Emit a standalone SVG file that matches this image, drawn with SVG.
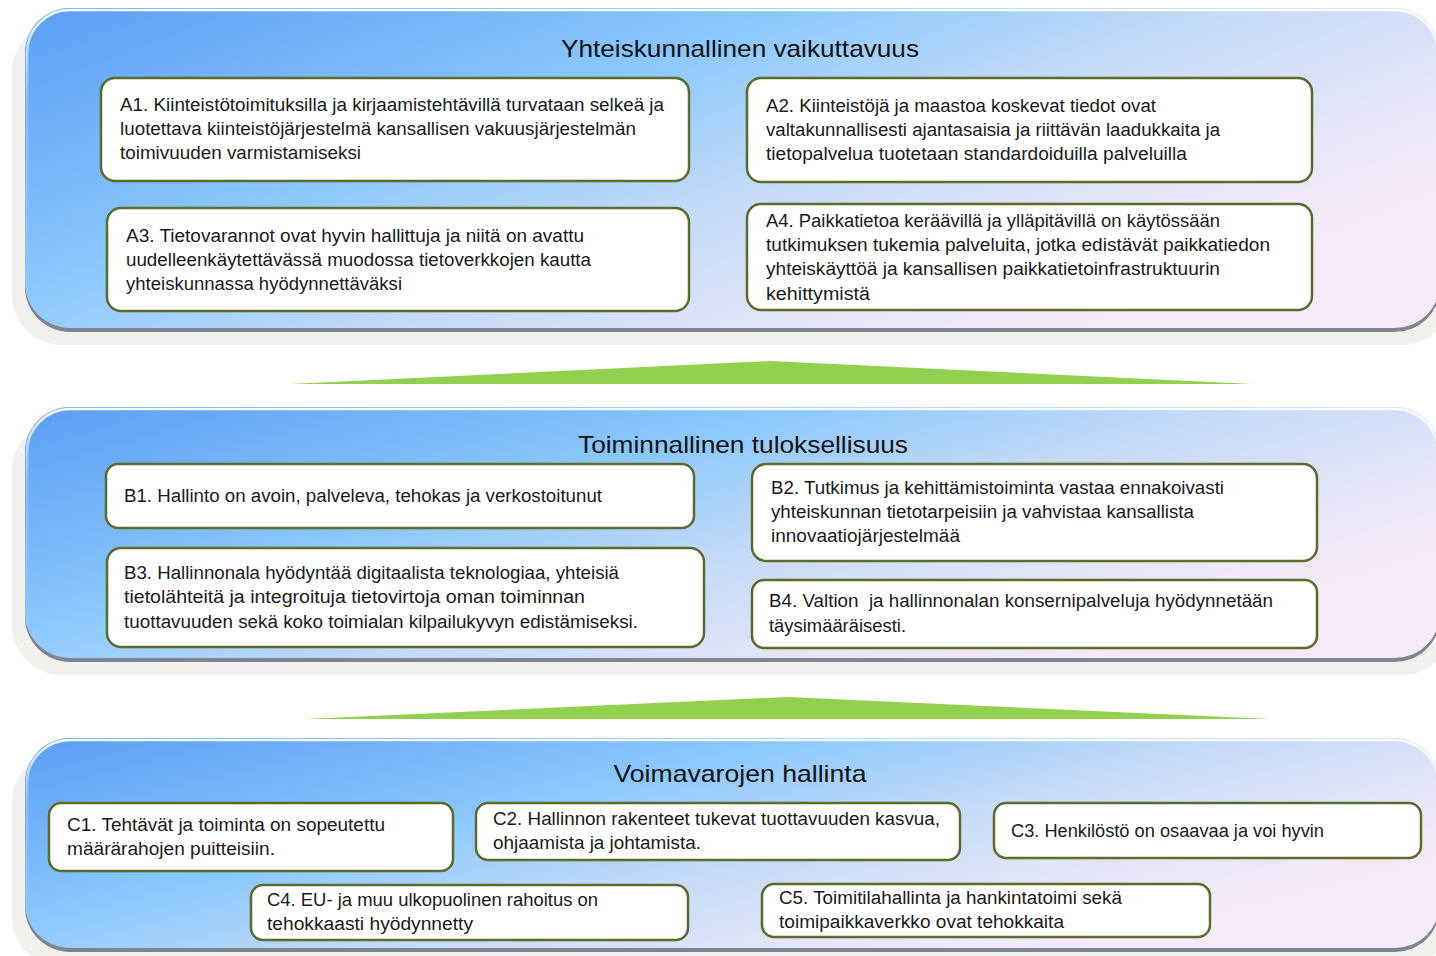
<svg xmlns="http://www.w3.org/2000/svg" width="1436" height="956" viewBox="0 0 1436 956">
<defs>
<linearGradient id="panelFill" x1="0" y1="0" x2="1" y2="0.6">
<stop offset="0" stop-color="#5c9ef5"/>
<stop offset="0.4" stop-color="#8ac8fd"/>
<stop offset="0.62" stop-color="#c2daf8"/>
<stop offset="0.85" stop-color="#e6e6f8"/>
<stop offset="1" stop-color="#f7eaf8"/>
</linearGradient>
<linearGradient id="hilite" x1="0" y1="0" x2="0" y2="1">
<stop offset="0" stop-color="#ffffff" stop-opacity="0.95"/>
<stop offset="0.3" stop-color="#ffffff" stop-opacity="0.2"/>
<stop offset="1" stop-color="#ffffff" stop-opacity="0"/>
</linearGradient>
<style>
.shadow{fill:#f1f0eb}
.edge{fill:#7d8590}
.panel{fill:url(#panelFill)}
.gloss{fill:none;stroke:url(#hilite);stroke-width:2.5}
.box{fill:#ffffff;stroke:#5a6b2b;stroke-width:2.5}
.t{font-family:"Liberation Sans",Arial,sans-serif;font-size:18px;fill:#1a1a1a}
.title{font-family:"Liberation Sans",Arial,sans-serif;font-size:24px;fill:#111111;text-anchor:middle}
.arrow{fill:#92d050}
</style>
</defs>
<rect width="1436" height="956" fill="#ffffff"/>

<g id="panel-A">
<rect class="shadow" x="12" y="22" width="1440" height="323" rx="50"/>
<rect class="edge" x="25" y="10" width="1415" height="322" rx="45"/>
<rect class="panel" x="25" y="8" width="1415" height="320" rx="45"/>
<rect class="gloss" x="27" y="10" width="1411" height="316" rx="43"/>
<text class="title" x="740" y="57" textLength="358" lengthAdjust="spacingAndGlyphs">Yhteiskunnallinen vaikuttavuus</text>
</g>
<g id="panel-B">
<rect class="shadow" x="12" y="421" width="1440" height="254" rx="50"/>
<rect class="edge" x="25" y="409" width="1415" height="253" rx="45"/>
<rect class="panel" x="25" y="407" width="1415" height="251" rx="45"/>
<rect class="gloss" x="27" y="409" width="1411" height="247" rx="43"/>
<text class="title" x="743" y="453" textLength="330" lengthAdjust="spacingAndGlyphs">Toiminnallinen tuloksellisuus</text>
</g>
<g id="panel-C">
<rect class="shadow" x="12" y="752" width="1440" height="215" rx="50"/>
<rect class="edge" x="25" y="740" width="1415" height="212" rx="45"/>
<rect class="panel" x="25" y="738" width="1415" height="210" rx="45"/>
<rect class="gloss" x="27" y="740" width="1411" height="206" rx="43"/>
<text class="title" x="740" y="782" textLength="253" lengthAdjust="spacingAndGlyphs">Voimavarojen hallinta</text>
</g>

<g id="connectors">
<polygon class="arrow" points="290,384 770,361 1253,384"/>
<polygon class="arrow" points="305,719 788,697 1270,719"/>
</g>

<g id="A1">
<rect class="box" x="101" y="78" width="588" height="103" rx="14"/>
<text class="t" x="120" y="111" textLength="544" lengthAdjust="spacingAndGlyphs">A1. Kiinteistötoimituksilla ja kirjaamistehtävillä turvataan selkeä ja</text>
<text class="t" x="120" y="135" textLength="516" lengthAdjust="spacingAndGlyphs">luotettava kiinteistöjärjestelmä kansallisen vakuusjärjestelmän</text>
<text class="t" x="120" y="159" textLength="241" lengthAdjust="spacingAndGlyphs">toimivuuden varmistamiseksi</text>
</g>
<g id="A2">
<rect class="box" x="747" y="78" width="565" height="104" rx="14"/>
<text class="t" x="766" y="112" textLength="390" lengthAdjust="spacingAndGlyphs">A2. Kiinteistöjä ja maastoa koskevat tiedot ovat</text>
<text class="t" x="766" y="136" textLength="454" lengthAdjust="spacingAndGlyphs">valtakunnallisesti ajantasaisia ja riittävän laadukkaita ja</text>
<text class="t" x="766" y="160" textLength="421" lengthAdjust="spacingAndGlyphs">tietopalvelua tuotetaan standardoiduilla palveluilla</text>
</g>
<g id="A3">
<rect class="box" x="107" y="208" width="582" height="103" rx="14"/>
<text class="t" x="126" y="242" textLength="458" lengthAdjust="spacingAndGlyphs">A3. Tietovarannot ovat hyvin hallittuja ja niitä on avattu</text>
<text class="t" x="126" y="266" textLength="465" lengthAdjust="spacingAndGlyphs">uudelleenkäytettävässä muodossa tietoverkkojen kautta</text>
<text class="t" x="126" y="290" textLength="276" lengthAdjust="spacingAndGlyphs">yhteiskunnassa hyödynnettäväksi</text>
</g>
<g id="A4">
<rect class="box" x="747" y="204" width="565" height="106" rx="14"/>
<text class="t" x="766" y="227" textLength="454" lengthAdjust="spacingAndGlyphs">A4. Paikkatietoa keräävillä ja ylläpitävillä on käytössään</text>
<text class="t" x="766" y="251" textLength="504" lengthAdjust="spacingAndGlyphs">tutkimuksen tukemia palveluita, jotka edistävät paikkatiedon</text>
<text class="t" x="766" y="275" textLength="454" lengthAdjust="spacingAndGlyphs">yhteiskäyttöä ja kansallisen paikkatietoinfrastruktuurin</text>
<text class="t" x="766" y="300" textLength="104" lengthAdjust="spacingAndGlyphs">kehittymistä</text>
</g>

<g id="B1">
<rect class="box" x="106" y="464" width="588" height="64" rx="12"/>
<text class="t" x="124" y="502" textLength="478" lengthAdjust="spacingAndGlyphs">B1. Hallinto on avoin, palveleva, tehokas ja verkostoitunut</text>
</g>
<g id="B2">
<rect class="box" x="752" y="464" width="565" height="97" rx="14"/>
<text class="t" x="771" y="494" textLength="453" lengthAdjust="spacingAndGlyphs">B2. Tutkimus ja kehittämistoiminta vastaa ennakoivasti</text>
<text class="t" x="771" y="518" textLength="423" lengthAdjust="spacingAndGlyphs">yhteiskunnan tietotarpeisiin ja vahvistaa kansallista</text>
<text class="t" x="771" y="542" textLength="189" lengthAdjust="spacingAndGlyphs">innovaatiojärjestelmää</text>
</g>
<g id="B3">
<rect class="box" x="107" y="548" width="597" height="99" rx="14"/>
<text class="t" x="124" y="579" textLength="495" lengthAdjust="spacingAndGlyphs">B3. Hallinnonala hyödyntää digitaalista teknologiaa, yhteisiä</text>
<text class="t" x="124" y="603" textLength="461" lengthAdjust="spacingAndGlyphs">tietolähteitä ja integroituja tietovirtoja oman toiminnan</text>
<text class="t" x="124" y="628" textLength="514" lengthAdjust="spacingAndGlyphs">tuottavuuden sekä koko toimialan kilpailukyvyn edistämiseksi.</text>
</g>
<g id="B4">
<rect class="box" x="752" y="580" width="565" height="68" rx="12"/>
<text class="t" x="769" y="607" textLength="504" lengthAdjust="spacingAndGlyphs">B4. Valtion&#160; ja hallinnonalan konsernipalveluja hyödynnetään</text>
<text class="t" x="769" y="632" textLength="137" lengthAdjust="spacingAndGlyphs">täysimääräisesti.</text>
</g>

<g id="C1">
<rect class="box" x="49" y="803" width="404" height="68" rx="12"/>
<text class="t" x="67" y="831" textLength="318" lengthAdjust="spacingAndGlyphs">C1. Tehtävät ja toiminta on sopeutettu</text>
<text class="t" x="67" y="855" textLength="208" lengthAdjust="spacingAndGlyphs">määrärahojen puitteisiin.</text>
</g>
<g id="C2">
<rect class="box" x="476" y="803" width="484" height="57" rx="12"/>
<text class="t" x="493" y="825" textLength="447" lengthAdjust="spacingAndGlyphs">C2. Hallinnon rakenteet tukevat tuottavuuden kasvua,</text>
<text class="t" x="493" y="849" textLength="208" lengthAdjust="spacingAndGlyphs">ohjaamista ja johtamista.</text>
</g>
<g id="C3">
<rect class="box" x="994" y="803" width="427" height="55" rx="12"/>
<text class="t" x="1011" y="837" textLength="313" lengthAdjust="spacingAndGlyphs">C3. Henkilöstö on osaavaa ja voi hyvin</text>
</g>
<g id="C4">
<rect class="box" x="251" y="885" width="437" height="55" rx="12"/>
<text class="t" x="267" y="906" textLength="331" lengthAdjust="spacingAndGlyphs">C4. EU- ja muu ulkopuolinen rahoitus on</text>
<text class="t" x="267" y="930" textLength="206" lengthAdjust="spacingAndGlyphs">tehokkaasti hyödynnetty</text>
</g>
<g id="C5">
<rect class="box" x="762" y="884" width="448" height="53" rx="12"/>
<text class="t" x="779" y="904" textLength="343" lengthAdjust="spacingAndGlyphs">C5. Toimitilahallinta ja hankintatoimi sekä</text>
<text class="t" x="779" y="928" textLength="285" lengthAdjust="spacingAndGlyphs">toimipaikkaverkko ovat tehokkaita</text>
</g>
</svg>
